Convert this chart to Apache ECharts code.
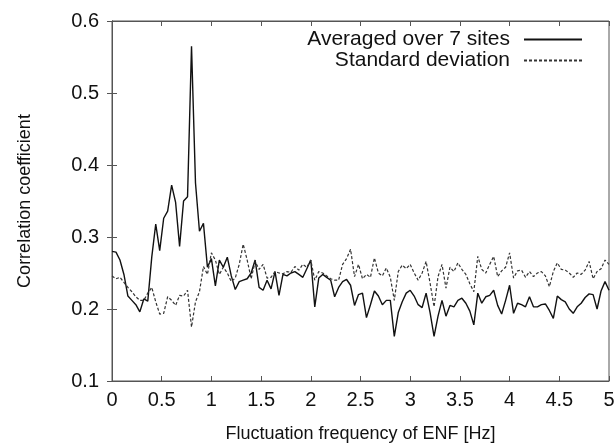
<!DOCTYPE html>
<html>
<head>
<meta charset="utf-8">
<script src="https://cdn.jsdelivr.net/npm/echarts@6/dist/echarts.min.js"></script>
<style>
  html, body { margin: 0; padding: 0; background: #fff; }
  #chart { width: 616px; height: 445px; }
</style>
</head>
<body>
<div id="chart"></div>
<script>
// frequency grid step 0.04 Hz, 0..5
var freqStep = 0.04;
var freqCount = 126;

// averaged over 7 sites
var avgValues = [
  0.280, 0.279, 0.268, 0.248, 0.218, 0.212, 0.206, 0.196, 0.214, 0.211,
  0.272, 0.318, 0.281, 0.326, 0.336, 0.372, 0.348, 0.287, 0.350, 0.356,
  0.565, 0.375, 0.308, 0.319, 0.258, 0.270, 0.232, 0.268, 0.258, 0.272,
  0.246, 0.227, 0.238, 0.240, 0.242, 0.250, 0.268, 0.230, 0.226, 0.240,
  0.228, 0.252, 0.219, 0.248, 0.246, 0.250, 0.252, 0.248, 0.244, 0.256,
  0.268, 0.203, 0.243, 0.248, 0.244, 0.240, 0.217, 0.230, 0.238, 0.241,
  0.233, 0.205, 0.220, 0.222, 0.188, 0.206, 0.225, 0.218, 0.206, 0.212,
  0.212, 0.162, 0.195, 0.210, 0.222, 0.226, 0.218, 0.206, 0.202, 0.222,
  0.195, 0.162, 0.190, 0.212, 0.190, 0.205, 0.203, 0.212, 0.215, 0.208,
  0.197, 0.178, 0.222, 0.208, 0.217, 0.219, 0.226, 0.205, 0.193, 0.212,
  0.233, 0.194, 0.208, 0.206, 0.203, 0.217, 0.203, 0.203, 0.206, 0.207,
  0.198, 0.187, 0.218, 0.213, 0.210, 0.200, 0.194, 0.203, 0.208, 0.216,
  0.221, 0.220, 0.200, 0.225, 0.238, 0.226
];

// standard deviation
var stdValues = [
  0.246, 0.242, 0.244, 0.237, 0.230, 0.224, 0.217, 0.212, 0.212, 0.222,
  0.230, 0.210, 0.193, 0.194, 0.217, 0.212, 0.205, 0.219, 0.218, 0.226,
  0.175, 0.210, 0.224, 0.259, 0.248, 0.278, 0.268, 0.248, 0.258, 0.250,
  0.238, 0.243, 0.262, 0.290, 0.268, 0.242, 0.266, 0.255, 0.262, 0.243,
  0.244, 0.252, 0.250, 0.249, 0.252, 0.251, 0.259, 0.254, 0.262, 0.258,
  0.268, 0.240, 0.252, 0.250, 0.246, 0.242, 0.240, 0.240, 0.262, 0.270,
  0.283, 0.245, 0.262, 0.242, 0.248, 0.244, 0.271, 0.250, 0.246, 0.257,
  0.244, 0.212, 0.252, 0.261, 0.256, 0.262, 0.250, 0.240, 0.250, 0.266,
  0.236, 0.203, 0.245, 0.262, 0.229, 0.258, 0.252, 0.264, 0.255, 0.248,
  0.235, 0.224, 0.273, 0.255, 0.250, 0.262, 0.273, 0.245, 0.253, 0.258,
  0.278, 0.243, 0.253, 0.254, 0.244, 0.252, 0.245, 0.250, 0.252, 0.246,
  0.231, 0.252, 0.264, 0.255, 0.254, 0.250, 0.244, 0.250, 0.248, 0.254,
  0.266, 0.242, 0.252, 0.256, 0.268, 0.262
];

var seriesNames = ['Averaged over 7 sites', 'Standard deviation'];

function pairs(vals) {
  var out = [];
  for (var i = 0; i < freqCount; i++) {
    out.push([+(i * freqStep).toFixed(2), vals[i]]);
  }
  return out;
}

var font = 'Liberation Sans, Arial, sans-serif';
var frameColor = '#555';

var myChart = echarts.init(document.getElementById('chart'));
var option = {
  animation: false,
  backgroundColor: '#fff',
  grid: {
    left: 112, right: 7, top: 21, bottom: 64,
    outerBoundsMode: 'none',
    show: true, borderColor: frameColor, borderWidth: 1
  },
  legend: {
    orient: 'vertical',
    right: 28,
    top: 24,
    align: 'right',
    itemWidth: 58,
    itemHeight: 14,
    itemGap: 0,
    itemStyle: { opacity: 0 },
    textStyle: { fontFamily: font, fontSize: 21, color: '#111', padding: [0, 9, 0, 0] },
    data: seriesNames
  },
  xAxis: [
    {
      type: 'value', min: 0, max: 5, interval: 0.5,
      position: 'bottom',
      axisLine: { show: true, lineStyle: { color: frameColor } },
      axisTick: { inside: true, length: 5, lineStyle: { color: frameColor } },
      splitLine: { show: false },
      axisLabel: { fontFamily: font, fontSize: 20, color: '#111', margin: 9 },
      name: 'Fluctuation frequency of ENF [Hz]',
      nameLocation: 'middle',
      nameGap: 44,
      nameTextStyle: { fontFamily: font, fontSize: 18, color: '#111' }
    },
    {
      type: 'value', min: 0, max: 5, interval: 0.5,
      position: 'top',
      axisLine: { show: true, lineStyle: { color: frameColor } },
      axisTick: { inside: true, length: 5, lineStyle: { color: frameColor } },
      splitLine: { show: false },
      axisLabel: { show: false }
    }
  ],
  yAxis: [
    {
      type: 'value', min: 0.1, max: 0.6, interval: 0.1,
      position: 'left',
      axisLine: { show: true, lineStyle: { color: frameColor } },
      axisTick: { inside: true, length: 5, lineStyle: { color: frameColor } },
      splitLine: { show: false },
      axisLabel: { fontFamily: font, fontSize: 20, color: '#111', margin: 13 },
      name: 'Correlation coefficient',
      nameLocation: 'middle',
      nameGap: 78,
      nameTextStyle: { fontFamily: font, fontSize: 18, color: '#111' }
    },
    {
      type: 'value', min: 0.1, max: 0.6, interval: 0.1,
      position: 'right',
      axisLine: { show: true, lineStyle: { color: frameColor } },
      axisTick: { inside: true, length: 5, lineStyle: { color: frameColor } },
      splitLine: { show: false },
      axisLabel: { show: false }
    }
  ],
  series: [
    {
      name: seriesNames[0],
      type: 'line',
      xAxisIndex: 0, yAxisIndex: 0,
      symbol: 'none',
      lineStyle: { color: '#111', width: 1.4, type: 'solid' },
      itemStyle: { color: '#111' },
      data: pairs(avgValues)
    },
    {
      name: seriesNames[1],
      type: 'line',
      xAxisIndex: 0, yAxisIndex: 0,
      symbol: 'none',
      lineStyle: { color: '#333', width: 1.2, type: [3, 2] },
      itemStyle: { color: '#333' },
      data: pairs(stdValues)
    }
  ]
};
myChart.setOption(option);
</script>
</body>
</html>
